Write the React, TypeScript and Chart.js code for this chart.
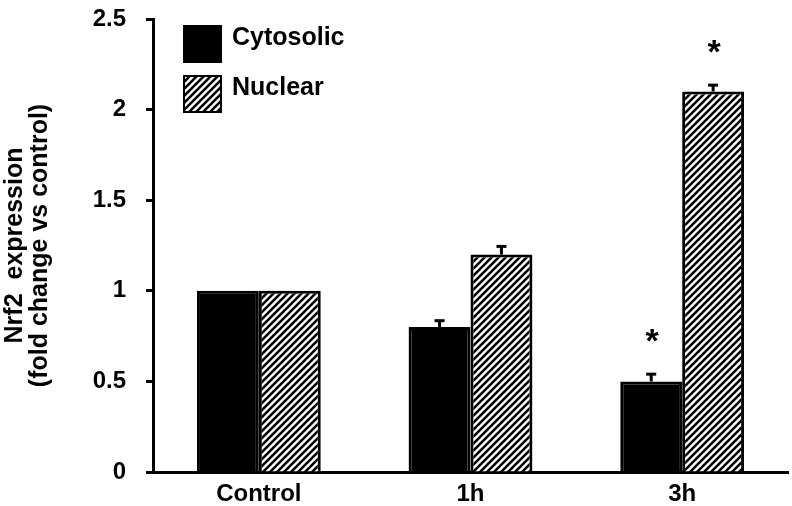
import React, { useEffect, useRef } from 'react';
import { Chart, registerables } from 'chart.js';

Chart.register(...registerables);

const categories = ['Control', '1h', '3h'];
const seriesLabels = ['Cytosolic', 'Nuclear'];
const cytosolic = [1.0, 0.8, 0.5];
const cytosolicErr = [0.0, 0.035, 0.04];
const nuclear = [1.0, 1.2, 2.1];
const nuclearErr = [0.0, 0.045, 0.035];
const cytosolicSig = [false, false, true];
const nuclearSig = [false, false, true];
const yTicks = [0, 0.5, 1, 1.5, 2, 2.5];
const yTitle = ['Nrf2  expression', '(fold change vs control)'];

const FONT = "'Liberation Sans', Arial, sans-serif";

function makeHatch(): CanvasPattern {
  const s = 7;
  const c = document.createElement('canvas');
  c.width = s;
  c.height = s;
  const g = c.getContext('2d')!;
  g.fillStyle = '#ffffff';
  g.fillRect(0, 0, s, s);
  g.strokeStyle = '#000000';
  g.lineWidth = 2.6;
  g.beginPath();
  g.moveTo(-1, s + 1);
  g.lineTo(s + 1, -1);
  g.moveTo(-2, 2);
  g.lineTo(2, -2);
  g.moveTo(s - 2, s + 2);
  g.lineTo(s + 2, s - 2);
  g.stroke();
  return g.createPattern(c, 'repeat')!;
}

export default function App() {
  const ref = useRef<HTMLCanvasElement | null>(null);

  useEffect(() => {
    if (!ref.current) return;
    const hatch = makeHatch();
    const errs = [cytosolicErr, nuclearErr];
    const sigs = [cytosolicSig, nuclearSig];

    const errorPlugin = {
      id: 'errorBars',
      afterDatasetsDraw(chart: any) {
        const ctx = chart.ctx;
        const yScale = chart.scales.y;
        ctx.save();
        chart.data.datasets.forEach((ds: any, i: number) => {
          const meta = chart.getDatasetMeta(i);
          meta.data.forEach((bar: any, j: number) => {
            const v = ds.data[j];
            const e = errs[i][j];
            const topPx = yScale.getPixelForValue(v + e);
            if (e > 0) {
              ctx.strokeStyle = '#000';
              ctx.lineWidth = 3;
              ctx.beginPath();
              ctx.moveTo(bar.x, bar.y);
              ctx.lineTo(bar.x, topPx);
              ctx.stroke();
              ctx.beginPath();
              ctx.moveTo(bar.x - 5, topPx);
              ctx.lineTo(bar.x + 5, topPx);
              ctx.stroke();
            }
            if (sigs[i][j]) {
              ctx.fillStyle = '#000';
              ctx.font = `bold 34px ${FONT}`;
              ctx.textAlign = 'center';
              ctx.textBaseline = 'alphabetic';
              ctx.fillText('*', bar.x + 1, topPx - 22);
            }
          });
        });
        ctx.restore();
      },
    };

    const legendPlugin = {
      id: 'customLegend',
      afterDraw(chart: any) {
        const ctx = chart.ctx;
        ctx.save();
        const x0 = 183;
        const tops = [25, 75];
        chart.data.datasets.forEach((ds: any, i: number) => {
          const y0 = tops[i];
          ctx.fillStyle = ds.backgroundColor;
          ctx.fillRect(x0, y0, 39, 38);
          if (i === 1) {
            ctx.strokeStyle = '#000';
            ctx.lineWidth = 2;
            ctx.strokeRect(x0 + 1, y0 + 1, 37, 36);
          }
          ctx.fillStyle = '#000';
          ctx.font = `bold 25px ${FONT}`;
          ctx.textAlign = 'left';
          ctx.textBaseline = 'middle';
          ctx.fillText(ds.label, 232, y0 + 13);
        });
        ctx.restore();
      },
    };

    const chart = new Chart(ref.current, {
      type: 'bar',
      data: {
        labels: categories,
        datasets: [
          {
            label: seriesLabels[0],
            data: cytosolic,
            backgroundColor: '#000000',
            borderColor: '#000000',
            borderWidth: 3,
            categoryPercentage: 0.585,
            barPercentage: 1.0,
          },
          {
            label: seriesLabels[1],
            data: nuclear,
            backgroundColor: hatch as any,
            borderColor: '#000000',
            borderWidth: 3,
            categoryPercentage: 0.585,
            barPercentage: 1.0,
          },
        ],
      },
      options: {
        animation: false,
        responsive: true,
        maintainAspectRatio: false,
        layout: { padding: { top: 19, right: 4, left: 0, bottom: 0 } },
        plugins: {
          legend: { display: false },
          tooltip: { enabled: false },
        },
        scales: {
          x: {
            grid: { display: false, drawTicks: false },
            border: { display: true, color: '#000', width: 3 },
            ticks: {
              color: '#000',
              padding: 8,
              font: { family: FONT, size: 24, weight: 'bold' },
            },
            afterFit: (scale: any) => {
              scale.height = 34;
            },
          },
          y: {
            min: 0,
            max: 2.5,
            afterBuildTicks: (scale: any) => {
              scale.ticks = yTicks.map((v) => ({ value: v }));
            },
            grid: {
              display: true,
              drawOnChartArea: false,
              drawTicks: true,
              tickLength: 7,
              tickWidth: 3,
              tickColor: '#000',
            },
            border: { display: true, color: '#000', width: 3 },
            ticks: {
              color: '#000',
              padding: 20,
              font: { family: FONT, size: 24, weight: 'bold' },
              callback: (v: any) => String(v),
            },
            title: {
              display: true,
              text: yTitle,
              color: '#000',
              padding: { top: 3, bottom: 0 },
              font: { family: FONT, size: 25, weight: 'bold', lineHeight: 1.0 },
            },
            afterFit: (scale: any) => {
              scale.width = 153;
              scale.paddingTop = 0;
              scale.paddingBottom = 0;
            },
          },
        },
      },
      plugins: [errorPlugin, legendPlugin],
    });

    return () => chart.destroy();
  }, []);

  return (
    <div style={{ position: 'absolute', left: 0, top: 0, width: 792, height: 506, background: '#fff' }}>
      <canvas ref={ref} />
    </div>
  );
}
